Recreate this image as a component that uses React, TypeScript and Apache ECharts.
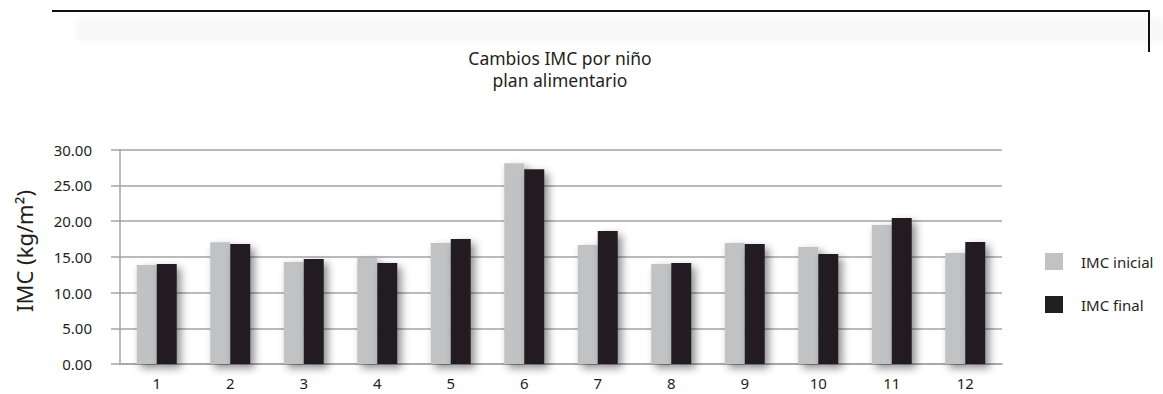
import React, { useEffect, useRef } from "react";
import * as echarts from "echarts";

const categories = ["1", "2", "3", "4", "5", "6", "7", "8", "9", "10", "11", "12"];
const imcInicial = [13.86, 17.02, 14.27, 14.83, 16.92, 28.09, 16.65, 14.0, 16.92, 16.37, 19.45, 15.53];
const imcFinal = [14.0, 16.79, 14.69, 14.13, 17.48, 27.25, 18.6, 14.13, 16.79, 15.39, 20.43, 17.07];
const yTicks = { min: 0, max: 30, interval: 5 };
const titleLines = ["Cambios IMC por niño", "plan alimentario"];
const seriesNames = ["IMC inicial", "IMC final"];
const yAxisName = "IMC (kg/m²)";

const FONT = "'Noto Sans', 'Open Sans', sans-serif";
const LIGHT = "#c1c2c4";
const DARK = "#231f20";
const GRID = "#a3a3a3";
const TEXT = "#231f20";

export default function App() {
  const ref = useRef<HTMLDivElement>(null);
  useEffect(() => {
    if (!ref.current) return;
    const chart = echarts.init(ref.current, undefined, { renderer: "svg" });
    const shadow = {
      shadowColor: "rgba(0,0,0,0.45)",
      shadowBlur: 8,
      shadowOffsetX: 4,
      shadowOffsetY: 4,
    };
    chart.setOption({
      animation: false,
      backgroundColor: "#ffffff",
      textStyle: { fontFamily: FONT },
      graphic: [
        {
          type: "rect",
          shape: { x: 78, y: 20, width: 1085, height: 20 },
          style: { fill: "#f9f9f9", shadowBlur: 10, shadowColor: "#f4f4f4" },
          silent: true,
        },
        {
          type: "line",
          shape: { x1: 52, y1: 11, x2: 1149, y2: 11 },
          style: { stroke: "#111111", lineWidth: 2 },
        },
        {
          type: "line",
          shape: { x1: 1149, y1: 10, x2: 1149, y2: 52 },
          style: { stroke: "#111111", lineWidth: 2 },
        },
        {
          type: "text",
          x: 560,
          y: 58,
          style: {
            text: titleLines[0],
            font: `17.5px ${FONT}`,
            fill: TEXT,
            align: "center",
            verticalAlign: "middle",
          },
        },
        {
          type: "text",
          x: 560,
          y: 80,
          style: {
            text: titleLines[1],
            font: `17.5px ${FONT}`,
            fill: TEXT,
            align: "center",
            verticalAlign: "middle",
          },
        },
        {
          type: "text",
          x: 24,
          y: 251,
          rotation: Math.PI / 2,
          style: {
            text: yAxisName,
            font: `22px ${FONT}`,
            fill: TEXT,
            align: "center",
            verticalAlign: "middle",
          },
        },
      ],
      legend: {
        orient: "vertical",
        left: 1045,
        top: 253,
        icon: "rect",
        itemWidth: 18,
        itemHeight: 17,
        itemGap: 26,
        data: seriesNames,
        textStyle: { fontSize: 15, color: TEXT, fontFamily: FONT, padding: [0, 0, 0, 13] },
        padding: 0,
      },
      grid: { left: 120, right: 161, top: 149.5, bottom: 30 },
      xAxis: {
        type: "category",
        data: categories,
        axisLine: { show: true, lineStyle: { color: GRID, width: 1.5 } },
        axisTick: { show: false },
        axisLabel: { fontSize: 15, color: TEXT, margin: 11, fontFamily: FONT },
      },
      yAxis: {
        type: "value",
        min: yTicks.min,
        max: yTicks.max,
        interval: yTicks.interval,
        axisLine: { show: true, lineStyle: { color: GRID, width: 1.5 } },
        axisTick: { show: true, length: 9, lineStyle: { color: GRID, width: 1.5 } },
        splitLine: { show: true, lineStyle: { color: GRID, width: 1.5 } },
        axisLabel: {
          fontSize: 15,
          color: TEXT,
          margin: 28,
          fontFamily: FONT,
          formatter: (v: number) => v.toFixed(2),
        },
      },
      series: [
        {
          name: seriesNames[0],
          type: "bar",
          data: imcInicial,
          barWidth: 20,
          barGap: "0%",
          itemStyle: { color: LIGHT, ...shadow },
        },
        {
          name: seriesNames[1],
          type: "bar",
          data: imcFinal,
          barWidth: 20,
          barGap: "0%",
          itemStyle: { color: DARK, ...shadow },
        },
      ],
    });
    return () => chart.dispose();
  }, []);
  return (
    <div
      ref={ref}
      style={{ position: "fixed", left: 0, top: 0, width: 1163, height: 394 }}
    />
  );
}
